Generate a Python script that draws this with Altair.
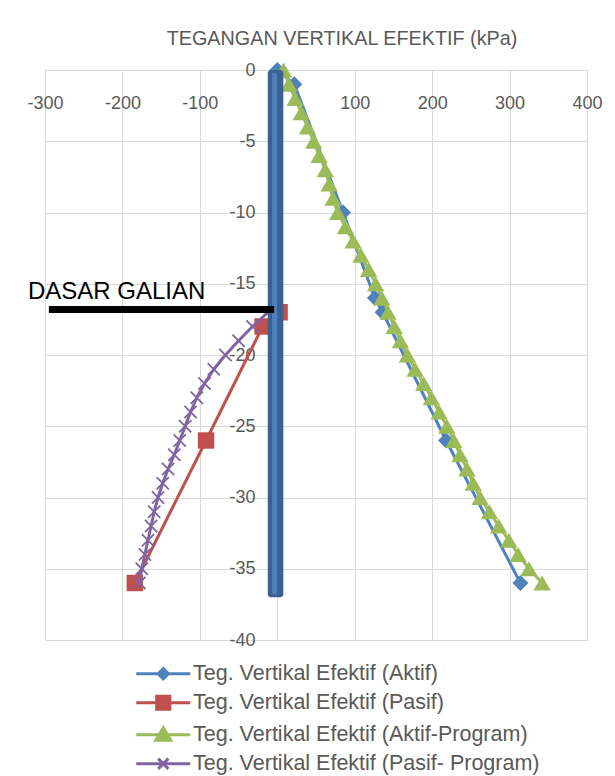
import altair as alt
import pandas as pd

FONT = "Liberation Sans"
GREY = "#595959"

series_names = [
    "Teg. Vertikal Efektif (Aktif)",
    "Teg. Vertikal Efektif (Pasif)",
    "Teg. Vertikal Efektif (Aktif-Program)",
    "Teg. Vertikal Efektif (Pasif- Program)",
]
series_colors = ["#4F81BD", "#C0504D", "#9BBB59", "#8064A2"]

aktif_depth = [0, -1, -10, -16, -17, -26, -36]
aktif_val = [0, 22, 85, 126, 136, 218, 314]

pasif_depth = [-17, -18, -26, -36]
pasif_val = [3, -19, -92, -184]

aktif_prog_depth = [0, -1, -2, -3, -4, -5, -6, -7, -8, -9, -10, -11, -12,
                    -13, -14, -15, -16, -17, -18, -19, -20, -21, -22, -23,
                    -24, -25, -26, -27, -28, -29, -30, -31, -32, -33, -34,
                    -35, -36]
aktif_prog_val = [8, 15, 23, 31, 39, 47, 54, 62, 67, 72, 78, 88, 98, 108,
                  118, 127, 135, 143, 151, 159, 168, 178, 189, 199, 209,
                  219, 228, 236, 245, 253, 262, 274, 286, 299, 311, 325, 342]

pasif_prog_depth = [-17, -18, -19, -20, -21, -22, -23, -24, -25, -26, -27,
                    -28, -29, -30, -31, -32, -33, -34, -35, -36]
pasif_prog_val = [-12, -32, -50, -67, -82, -94, -104, -112, -119, -126, -133,
                  -141, -148, -154, -159, -163, -167, -171, -175, -178]

x_ticks = [-300, -200, -100, 0, 100, 200, 300, 400]
y_ticks = [0, -5, -10, -15, -20, -25, -30, -35, -40]

# sheet pile wall and excavation level annotation
wall_left, wall_right = -12.3, 7.8
wall_top, wall_bottom = 0, -37
core_left, core_right = -6.7, -0.3
core_top, core_bottom = -0.2, -36.8
excavation_level = -16.8
excavation_from, excavation_to = -295, -4
label_text = "DASAR GALIAN"
label_x, label_y = -322, -16.05

title_text = "TEGANGAN VERTIKAL EFEKTIF (kPa)"

xscale = alt.Scale(domain=[-300, 400], nice=False, zero=False)
yscale = alt.Scale(domain=[-40, 0], nice=False, zero=False)

xaxis = alt.Axis(values=x_ticks, orient="bottom", offset=-570, title=None,
                 domain=False, ticks=False, labelPadding=24, labelFontSize=18,
                 labelFont=FONT, labelColor=GREY, gridColor="#D9D9D9",
                 labelFlush=False, labelOverlap=False,
                 labelExpr="datum.value == 0 ? '' : toString(datum.value)")
yaxis = alt.Axis(values=y_ticks, orient="left", offset=-232, title=None,
                 domain=False, ticks=False, labelPadding=22, labelFontSize=18,
                 labelFont=FONT, labelColor=GREY, gridColor="#D9D9D9",
                 labelFlush=False, labelOverlap=False,
                 labelExpr="toString(datum.value)")

legend_paths = [
    "M-4.5,0H4.5M0,-0.85L0.85,0L0,0.85L-0.85,0Z",
    "M-4.5,0H4.5M-1.1,-1.1H1.1V1.1H-1.1Z",
    "M-4.5,0H4.5M0,-1.15L1.25,0.9H-1.25Z",
    "M-4.5,0H4.5M-0.85,-0.85L0.85,0.85M-0.85,0.85L0.85,-0.85",
]

legend = alt.Legend(
    title=None, orient="none", legendX=107.5, legendY=593,
    labelFont=FONT, labelFontSize=21.5, labelColor=GREY, labelLimit=0,
    symbolSize=144, symbolStrokeWidth=3, symbolOpacity=1,
    labelOffset=19, rowPadding=5,
)
color_scale = alt.Scale(domain=series_names, range=series_colors)


def series_layers(vals, depths, name, shape, size, filled, sw):
    df = pd.DataFrame({"x": vals, "y": depths, "i": list(range(len(vals))),
                       "series": name})
    base = alt.Chart(df).encode(
        x=alt.X("x:Q", scale=xscale, axis=xaxis),
        y=alt.Y("y:Q", scale=yscale, axis=yaxis),
        order=alt.Order("i:Q"),
        color=alt.Color("series:N", scale=color_scale, legend=None),
    )
    line = base.mark_line(strokeWidth=3, strokeCap="round", strokeJoin="round")
    pts = base.mark_point(shape=shape, size=size, filled=filled,
                          opacity=1, strokeWidth=sw)
    return [line, pts]


layers = []
layers += series_layers(aktif_val, aktif_depth, series_names[0], "diamond", 256, True, 0)
layers += series_layers(pasif_val, pasif_depth, series_names[1], "square", 270, True, 0)
layers += series_layers(aktif_prog_val, aktif_prog_depth, series_names[2], "triangle-up", 300, True, 0)
layers += series_layers(pasif_prog_val, pasif_prog_depth, series_names[3],
                        "M-1,-1L1,1M-1,1L1,-1", 150, False, 1.8)

# invisible layer that only carries the legend (line + marker symbols)
leg_df = pd.DataFrame({
    "x": [aktif_val[0], pasif_val[0], aktif_prog_val[0], pasif_prog_val[0]],
    "y": [aktif_depth[0], pasif_depth[0], aktif_prog_depth[0], pasif_prog_depth[0]],
    "series": series_names,
})
legend_layer = alt.Chart(leg_df).mark_point(opacity=0, filled=True).encode(
    x=alt.X("x:Q", scale=xscale, axis=xaxis),
    y=alt.Y("y:Q", scale=yscale, axis=yaxis),
    fill=alt.Fill("series:N", scale=alt.Scale(domain=series_names, range=series_colors), legend=legend),
    stroke=alt.Stroke("series:N", scale=alt.Scale(domain=series_names, range=series_colors), legend=legend),
    shape=alt.Shape("series:N", scale=alt.Scale(domain=series_names, range=legend_paths), legend=legend),
)

wall_df = pd.DataFrame({"x": [wall_left], "x2": [wall_right],
                        "y": [wall_top], "y2": [wall_bottom]})
core_df = pd.DataFrame({"x": [core_left], "x2": [core_right],
                        "y": [core_top], "y2": [core_bottom]})
wall = alt.Chart(wall_df).mark_rect(color="#3A6190", cornerRadius=3).encode(
    x=alt.X("x:Q", scale=xscale, axis=xaxis), x2="x2:Q",
    y=alt.Y("y:Q", scale=yscale, axis=yaxis), y2="y2:Q")
core = alt.Chart(core_df).mark_rect(color="#4F81BD", cornerRadius=2).encode(
    x=alt.X("x:Q", scale=xscale, axis=xaxis), x2="x2:Q",
    y=alt.Y("y:Q", scale=yscale, axis=yaxis), y2="y2:Q")

exc_df = pd.DataFrame({"x": [excavation_from], "x2": [excavation_to],
                       "y": [excavation_level]})
exc_line = alt.Chart(exc_df).mark_rule(color="black", strokeWidth=7).encode(
    x=alt.X("x:Q", scale=xscale, axis=xaxis), x2="x2:Q",
    y=alt.Y("y:Q", scale=yscale, axis=yaxis))

lab_df = pd.DataFrame({"x": [label_x], "y": [label_y], "t": [label_text]})
exc_text = alt.Chart(lab_df).mark_text(
    align="left", baseline="alphabetic", font=FONT, fontSize=24,
    color="black").encode(
    x=alt.X("x:Q", scale=xscale, axis=xaxis),
    y=alt.Y("y:Q", scale=yscale, axis=yaxis), text="t:N")

layers += [legend_layer, wall, core, exc_line, exc_text]

chart = alt.layer(*layers).resolve_scale(
    fill="independent", stroke="independent", shape="independent"
).properties(
    width=542, height=570,
    autosize=alt.AutoSizeParams(type="none"),
    padding={"left": 37, "top": 62, "right": 18, "bottom": 138},
    title=alt.TitleParams(title_text, font=FONT, fontSize=19.8,
                          fontWeight="normal", color=GREY, anchor="middle",
                          frame="group", dx=26, offset=-3.5,
                          baseline="alphabetic"),
).configure_view(stroke=None).configure(background="white")

chart.save("out.html", embed_options={"renderer": "svg", "actions": False})
